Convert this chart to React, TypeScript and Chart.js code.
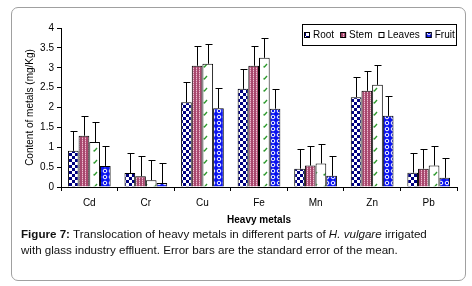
import React, { useEffect, useRef } from "react";
import { Chart, registerables } from "chart.js";

Chart.register(...registerables);

const categories = ["Cd", "Cr", "Cu", "Fe", "Mn", "Zn", "Pb"];
const seriesNames = ["Root", "Stem", "Leaves", "Fruit"];
const rootValues = [0.91, 0.35, 2.13, 2.47, 0.46, 2.26, 0.36];
const stemValues = [1.29, 0.27, 3.05, 3.05, 0.54, 2.42, 0.46];
const leavesValues = [1.13, 0.17, 3.1, 3.25, 0.59, 2.57, 0.54];
const fruitValues = [0.53, 0.1, 1.98, 1.97, 0.28, 1.79, 0.23];
const rootErrors = [0.5, 0.5, 0.5, 0.5, 0.5, 0.5, 0.5];
const stemErrors = [0.5, 0.5, 0.5, 0.5, 0.5, 0.5, 0.5];
const leavesErrors = [0.5, 0.5, 0.5, 0.5, 0.5, 0.5, 0.5];
const fruitErrors = [0.5, 0.5, 0.5, 0.5, 0.5, 0.5, 0.5];
const yMin = 0;
const yMax = 4;
const yStep = 0.5;
const yTitle = "Content of metals (mg/Kg)";
const xTitle = "Heavy metals";

const FONT = '"Liberation Sans", Arial, sans-serif';

function makeCanvas(w: number, h: number) {
  const c = document.createElement("canvas");
  c.width = w;
  c.height = h;
  return c;
}

function makePatterns(ctx: CanvasRenderingContext2D) {
  // Root: navy checkerboard
  const c1 = makeCanvas(6, 6);
  const g1 = c1.getContext("2d")!;
  g1.fillStyle = "#ffffff";
  g1.fillRect(0, 0, 6, 6);
  g1.fillStyle = "#000080";
  g1.fillRect(0, 0, 3, 3);
  g1.fillRect(3, 3, 3, 3);

  // Stem: mauve with light dotted vertical stripes
  const c2 = makeCanvas(3, 2);
  const g2 = c2.getContext("2d")!;
  g2.fillStyle = "#a8486e";
  g2.fillRect(0, 0, 3, 2);
  g2.fillStyle = "#f0c0d4";
  g2.fillRect(1, 0, 1, 1);
  g2.fillStyle = "#c87898";
  g2.fillRect(1, 1, 1, 1);

  // Leaves: white with green slanted dashes
  const c3 = makeCanvas(10, 12);
  const g3 = c3.getContext("2d")!;
  g3.fillStyle = "#ffffff";
  g3.fillRect(0, 0, 10, 12);
  g3.strokeStyle = "#2e9a2e";
  g3.lineWidth = 1.4;
  g3.beginPath();
  g3.moveTo(3.5, 6.5);
  g3.lineTo(4.5, 7);
  g3.lineTo(7, 4);
  g3.stroke();

  // Fruit: blue with white rings
  const c4 = makeCanvas(6, 6);
  const g4 = c4.getContext("2d")!;
  g4.fillStyle = "#0a14f0";
  g4.fillRect(0, 0, 6, 6);
  g4.strokeStyle = "#ffffff";
  g4.lineWidth = 1;
  g4.beginPath();
  g4.arc(3, 3, 1.8, 0, Math.PI * 2);
  g4.stroke();

  return [
    ctx.createPattern(c1, "repeat")!,
    ctx.createPattern(c2, "repeat")!,
    ctx.createPattern(c3, "repeat")!,
    ctx.createPattern(c4, "repeat")!,
  ];
}

export default function App() {
  const ref = useRef<HTMLCanvasElement | null>(null);

  useEffect(() => {
    const canvas = ref.current!;
    const ctx = canvas.getContext("2d")!;
    const patterns = makePatterns(ctx);
    const values = [rootValues, stemValues, leavesValues, fruitValues];
    const errors = [rootErrors, stemErrors, leavesErrors, fruitErrors];

    Chart.defaults.font.family = FONT;
    Chart.defaults.color = "#000";

    const errorBars = {
      id: "errorBars",
      afterDatasetsDraw(chart: any) {
        const c = chart.ctx;
        const y = chart.scales.y;
        c.save();
        c.strokeStyle = "#000";
        c.lineWidth = 1;
        chart.data.datasets.forEach((ds: any, di: number) => {
          const meta = chart.getDatasetMeta(di);
          meta.data.forEach((el: any, i: number) => {
            const v = ds.data[i];
            const e = ds.errors[i];
            const x = Math.round(el.x) + 0.5;
            const yTop = Math.round(y.getPixelForValue(v + e)) + 0.5;
            const yBar = el.y;
            c.beginPath();
            c.moveTo(x, yBar);
            c.lineTo(x, yTop);
            c.moveTo(x - 3, yTop);
            c.lineTo(x + 4, yTop);
            c.stroke();
          });
        });
        c.restore();
      },
    };

    const legendBox = {
      id: "legendBox",
      afterDraw(chart: any) {
        const c = chart.ctx;
        const area = chart.chartArea;
        c.save();
        c.font = "10px " + FONT;
        const sw = 6;
        const gapAfterSwatch = 3;
        const itemGap = 6;
        const widths = seriesNames.map((n) => c.measureText(n).width);
        const content =
          widths.reduce((a, b) => a + b, 0) +
          seriesNames.length * (sw + gapAfterSwatch) +
          (seriesNames.length - 1) * itemGap;
        const boxW = Math.round(content + 4);
        const boxH = 22;
        const right = Math.round(area.right);
        const left = right - boxW;
        const top = Math.round(area.top) - 4;
        c.fillStyle = "#fff";
        c.fillRect(left, top, boxW, boxH);
        c.strokeStyle = "#000";
        c.lineWidth = 1;
        c.strokeRect(left + 0.5, top + 0.5, boxW - 1, boxH - 1);
        let x = left + 2;
        const cy = top + boxH / 2;
        seriesNames.forEach((n, i) => {
          c.fillStyle = patterns[i];
          c.fillRect(x, Math.round(cy - sw / 2), sw, sw);
          c.strokeStyle = "#000";
          c.strokeRect(x + 0.5, Math.round(cy - sw / 2) + 0.5, sw - 1, sw - 1);
          x += sw + gapAfterSwatch;
          c.fillStyle = "#000";
          c.textBaseline = "middle";
          c.textAlign = "left";
          c.fillText(n, x, cy + 0.5);
          x += widths[i] + itemGap;
        });
        c.restore();
      },
    };

    const chart = new Chart(canvas, {
      type: "bar",
      data: {
        labels: categories,
        datasets: seriesNames.map((name, i) => ({
          label: name,
          data: values[i],
          errors: errors[i],
          backgroundColor: patterns[i],
          borderColor: "#000",
          borderWidth: 1,
          borderSkipped: "bottom",
          categoryPercentage: 0.755,
          barPercentage: 1.0,
        })) as any,
      },
      options: {
        responsive: false,
        animation: false,
        events: [],
        layout: { padding: { left: 20, right: 15, top: 28, bottom: 0 } },
        plugins: {
          legend: { display: false },
          tooltip: { enabled: false },
          title: { display: false },
        },
        scales: {
          x: {
            afterFit: (s: any) => {
              s.height = 41;
            },
            grid: {
              offset: true,
              drawOnChartArea: false,
              drawTicks: true,
              tickLength: 4,
              color: "#000",
            },
            border: { display: true, color: "#000", width: 1 },
            ticks: { font: { size: 10 }, padding: 6, color: "#000" },
            title: {
              display: true,
              text: xTitle,
              font: { size: 10, weight: "bold" },
              padding: { top: 0, bottom: 2 },
              color: "#000",
            },
          },
          y: {
            min: yMin,
            max: yMax,
            afterFit: (s: any) => {
              s.width = 41;
            },
            grid: {
              drawOnChartArea: false,
              drawTicks: true,
              tickLength: 4,
              color: "#000",
            },
            border: { display: true, color: "#000", width: 1 },
            ticks: {
              stepSize: yStep,
              font: { size: 10 },
              padding: 3,
              color: "#000",
              callback: (v: any) => String(Number(v)),
            },
            title: {
              display: true,
              text: yTitle,
              font: { size: 10 },
              padding: { top: 4, bottom: 4 },
              color: "#000",
            },
          },
        },
      } as any,
      plugins: [errorBars, legendBox],
    });

    return () => chart.destroy();
  }, []);

  return (
    <div
      style={{
        position: "fixed",
        left: 0,
        top: 0,
        width: 472,
        height: 286,
        background: "#fff",
        overflow: "hidden",
      }}
    >
      <div
        style={{
          position: "absolute",
          left: 11,
          top: 7,
          width: 455,
          height: 274,
          border: "1px solid #a0a0a0",
          borderRadius: 7,
          boxSizing: "border-box",
        }}
      />
      <canvas
        ref={ref}
        width={472}
        height={228}
        style={{ position: "absolute", left: 0, top: 0, width: 472, height: 228 }}
      />
      <div
        style={{
          position: "absolute",
          left: 21,
          top: 226,
          font: "11.6px " + FONT,
          lineHeight: "16px",
          whiteSpace: "nowrap",
          color: "#111",
        }}
      >
        <b>Figure 7:</b> Translocation of heavy metals in different parts of{" "}
        <i>H. vulgare</i> irrigated
        <br />
        with glass industry effluent. Error bars are the standard error of the mean.
      </div>
    </div>
  );
}
